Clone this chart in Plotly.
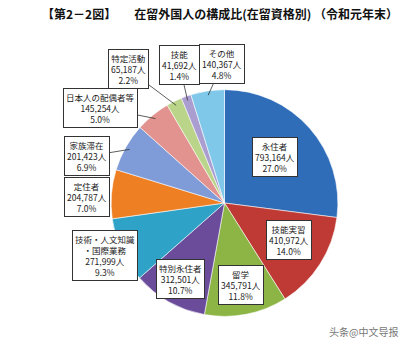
import math
import plotly.graph_objects as go

W, H = 404, 349

categories = ["永住者", "技能実習", "留学", "特別永住者", "技術・人文知識<br>・国際業務",
              "定住者", "家族滞在", "日本人の配偶者等", "特定活動", "技能", "その他"]
values = [793164, 410972, 345791, 312501, 271999, 204787, 201423, 145254, 65187, 41692, 140367]
count_labels = ["793,164人", "410,972人", "345,791人", "312,501人", "271,999人", "204,787人",
                "201,423人", "145,254人", "65,187人", "41,692人", "140,367人"]
pct_labels = ["27.0%", "14.0%", "11.8%", "10.7%", "9.3%", "7.0%", "6.9%", "5.0%", "2.2%", "1.4%", "4.8%"]
colors = ["#2F6DB8", "#BF3A34", "#8DB545", "#6A4C9B", "#2FA2C8", "#EE7F23",
          "#7F9CD8", "#E3938F", "#BAD58A", "#AA9DD0", "#7FC8EA"]

# label box offsets (pixels, x right / y down) relative to slice edge point; arrow flag
offsets = [(-31, 26, False), (-27, -22, False), (-4, -25, False), (10, -19, False),
           (-20, 7, False), (-29, 3, False), (-43, 7, True), (-55, -11, True),
           (-48, -36, True), (-8, -35, True), (14, -31, True)]

cx_px, cy_px, r_px = 224.5, 203, 109
r_dom = r_px * 1.04
dom_x = [(cx_px - r_dom) / W, (cx_px + r_dom) / W]
dom_y = [(H - cy_px - r_dom) / H, (H - cy_px + r_dom) / H]

fig = go.Figure(go.Pie(
    labels=categories, values=values, sort=False, direction="clockwise", rotation=0,
    marker=dict(colors=colors, line=dict(color="rgba(255,255,255,0.7)", width=0.8)),
    textinfo="none", hoverinfo="label+value+percent", showlegend=False,
    domain=dict(x=dom_x, y=dom_y),
))

total = sum(values)
cum = 0
annotations = []
for name, v, cl, pl, (dx, dy, arrow) in zip(categories, values, count_labels, pct_labels, offsets):
    mid = (cum + v / 2) / total
    cum += v
    th = 2 * math.pi * mid
    px = cx_px + r_px * math.sin(th)
    py = cy_px - r_px * math.cos(th)
    txt = f"{name}<br>{cl}<br>{pl}"
    base = dict(x=px / W, y=1 - py / H, xref="paper", yref="paper", text=txt,
                font=dict(size=8.5, color="#222", family="Noto Sans CJK JP"),
                bgcolor="white", bordercolor="#333", borderwidth=1, borderpad=2, align="center")
    if arrow:
        base.update(showarrow=True, arrowhead=0, arrowwidth=0.8, arrowcolor="#333", ax=dx, ay=dy)
    else:
        base.update(showarrow=False, xanchor="center", yanchor="middle", xshift=dx, yshift=-dy)
    annotations.append(base)

annotations.append(dict(x=220 / W, y=1 - 13 / H, xref="paper", yref="paper", showarrow=False,
                        xanchor="center", yanchor="middle",
                        text="<b>【第2－2図】　　在留外国人の構成比(在留資格別) （令和元年末）</b>",
                        font=dict(size=12, color="#111", family="Noto Sans CJK JP")))
annotations.append(dict(x=400 / W, y=1 - 331 / H, xref="paper", yref="paper", showarrow=False,
                        xanchor="right", yanchor="middle", text="头条@中文导报",
                        font=dict(size=10, color="#777", family="Noto Sans CJK SC")))

fig.update_layout(width=W, height=H, margin=dict(l=0, r=0, t=0, b=0),
                  paper_bgcolor="white", plot_bgcolor="white", annotations=annotations)
fig.write_html("out.html")
